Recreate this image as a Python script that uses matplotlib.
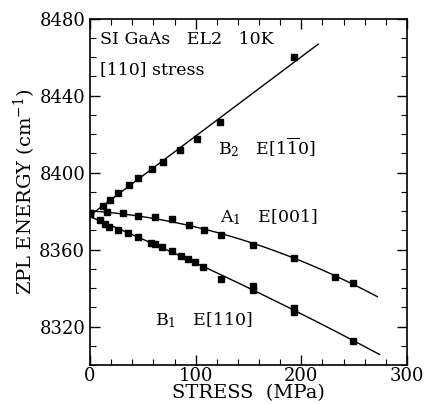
import numpy as np
import matplotlib
matplotlib.use("Agg")
import matplotlib.pyplot as plt
from matplotlib.ticker import MultipleLocator

# stress (MPa) and ZPL energy (cm^-1)
b2_x = [0, 12, 19, 26, 37, 45, 59, 69, 85, 101, 123, 193]
b2_y = [8379, 8382.5, 8386, 8389.5, 8393.5, 8397, 8402, 8405.5, 8412, 8417.5, 8426.5, 8460]

a1_x = [0, 16, 31, 45, 61, 78, 94, 108, 124, 154, 193, 232, 249]
a1_y = [8379, 8379.5, 8379, 8377.5, 8377, 8375.8, 8372.7, 8370, 8367.5, 8362.5, 8355.8, 8345.8, 8342.8]

b1_x = [0, 9.5, 14, 18, 26.5, 36, 45.5, 58, 61.5, 68, 77.5, 86, 93, 99, 107, 124, 154, 154, 193, 193, 249]
b1_y = [8378.5, 8375.3, 8373.3, 8372, 8370, 8368.6, 8366.5, 8363.4, 8362.9, 8361.3, 8359.2,
        8356.6, 8355, 8353.5, 8351, 8344.7, 8339, 8341, 8327.5, 8329.5, 8312.5]

# extent of the drawn fit lines
b2_end = 216
a1_end = 272
b1_end = 274

plt.rcParams['font.family'] = ['DejaVu Serif']
plt.rcParams['mathtext.fontset'] = 'dejavuserif'

fig = plt.figure(figsize=(4.27, 4.04), dpi=100)
ax = fig.add_axes([0.211, 0.0965, 0.742, 0.857])

for xs, ys, xend, deg in [(b2_x, b2_y, b2_end, 1), (a1_x, a1_y, a1_end, 2), (b1_x, b1_y, b1_end, 2)]:
    p = np.polyfit(xs, ys, deg)
    xx = np.linspace(0, xend, 200)
    ax.plot(xx, np.polyval(p, xx), color='black', lw=1.0)
    ax.plot(xs, ys, 's', color='black', ms=5)

ax.set_xlim(0, 300)
ax.set_ylim(8300, 8480)
ax.xaxis.set_major_locator(MultipleLocator(100))
ax.xaxis.set_minor_locator(MultipleLocator(20))
ax.yaxis.set_major_locator(MultipleLocator(40))
ax.yaxis.set_minor_locator(MultipleLocator(10))
ax.tick_params(which='both', direction='in', top=True, right=True, labelsize=13)
ax.tick_params(which='major', length=7, width=1)
ax.tick_params(which='minor', length=4, width=0.8)
ax.tick_params(axis='x', which='major', pad=1.5)
for s in ax.spines.values():
    s.set_linewidth(1.2)

ax.set_xlabel('STRESS  (MPa)', fontsize=14, labelpad=-1)
ax.set_ylabel('ZPL ENERGY (cm$^{-1}$)', fontsize=14, labelpad=1)

ax.text(0.03, 0.939, 'SI GaAs   EL2   10K', transform=ax.transAxes, fontsize=12.5, va='center')
ax.text(0.03, 0.853, '[110] stress', transform=ax.transAxes, fontsize=12.5, va='center')
ax.text(0.405, 0.63, r'B$_2$   E[1$\overline{1}$0]', transform=ax.transAxes, fontsize=12.5, va='center')
ax.text(0.41, 0.428, r'A$_1$   E[001]', transform=ax.transAxes, fontsize=12.5, va='center')
ax.text(0.205, 0.13, r'B$_1$   E[110]', transform=ax.transAxes, fontsize=12.5, va='center')

fig.savefig('out.png', dpi=100)
